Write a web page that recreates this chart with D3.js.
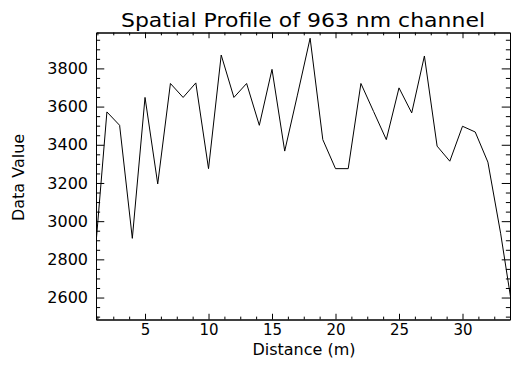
<!DOCTYPE html>
<html>
<head>
<meta charset="utf-8">
<script src="https://cdn.jsdelivr.net/npm/d3@7"></script>
<style>
  body { margin: 0; background: #fff; }
  text { font-family: "DejaVu Sans", sans-serif; fill: #000; }
</style>
</head>
<body>
<div id="chart"></div>
<script>
// Values (one sample per metre)
const distance = [1, 2, 3, 4, 5, 6, 7, 8, 9, 10, 11, 12, 13, 14, 15, 16, 17,
    18, 19, 20, 21, 22, 23, 24, 25, 26, 27, 28, 29, 30, 31, 32, 33, 34];
const dataValue = [2770, 3572, 3502, 2910, 3648, 3195, 3721, 3648, 3724, 3275,
    3870, 3648, 3721, 3502, 3795, 3367, 3660, 3958, 3427, 3275, 3275, 3721,
    3574, 3427, 3698, 3567, 3865, 3393, 3314, 3497, 3467, 3309, 2937, 2510];
const xMajorTicks = [5, 10, 15, 20, 25, 30];
const yMajorTicks = [2600, 2800, 3000, 3200, 3400, 3600, 3800];

const W = 511, H = 365;
const margin = {top: 32.5, right: 1, bottom: 45.5, left: 96},
    width = W - margin.left - margin.right,
    height = H - margin.top - margin.bottom;

const svg = d3.select("#chart")
    .append("svg")
        .attr("width", W)
        .attr("height", H);

const g = svg.append("g")
    .attr("transform", `translate(${margin.left}, ${margin.top})`);

const x = d3.scaleLinear().domain([1.14, 33.74]).range([0, width]);
const y = d3.scaleLinear().domain([2485, 3988]).range([height, 0]);

// minor ticks: 4 subdivisions between majors
const xMinor = d3.range(1.25, 33.75, 1.25).filter(v => v % 5 !== 0);
const yMinor = d3.range(2500, 3988, 50).filter(v => v % 200 !== 0);

const xLen = 0.02 * height, yLen = 0.02 * width;

function style(sel) {
    sel.select(".domain").attr("stroke", "#000").attr("stroke-width", 1);
    sel.selectAll(".tick line").attr("stroke", "#000").attr("stroke-width", 1);
}

// bottom axis with labels
g.append("g")
    .attr("transform", `translate(0, ${height})`)
    .call(d3.axisBottom(x).tickValues(xMajorTicks).tickSize(-xLen).tickSizeOuter(0).tickPadding(5))
    .call(style)
    .call(s => s.selectAll("text").style("font-size", "15px"));
g.append("g")
    .attr("transform", `translate(0, ${height})`)
    .call(d3.axisBottom(x).tickValues(xMinor).tickSize(-xLen / 2).tickSizeOuter(0).tickFormat(""))
    .call(style);

// top axis, ticks only
g.append("g")
    .call(d3.axisTop(x).tickValues(xMajorTicks).tickSize(-xLen).tickSizeOuter(0).tickFormat(""))
    .call(style);
g.append("g")
    .call(d3.axisTop(x).tickValues(xMinor).tickSize(-xLen / 2).tickSizeOuter(0).tickFormat(""))
    .call(style);

// left axis with labels
g.append("g")
    .call(d3.axisLeft(y).tickValues(yMajorTicks).tickFormat(d3.format("d"))
        .tickSize(-yLen).tickSizeOuter(0).tickPadding(8))
    .call(style)
    .call(s => s.selectAll("text").style("font-size", "16px"));
g.append("g")
    .call(d3.axisLeft(y).tickValues(yMinor).tickSize(-yLen / 2).tickSizeOuter(0).tickFormat(""))
    .call(style);

// right axis, ticks only
g.append("g")
    .attr("transform", `translate(${width}, 0)`)
    .call(d3.axisRight(y).tickValues(yMajorTicks).tickSize(-yLen).tickSizeOuter(0).tickFormat(""))
    .call(style);
g.append("g")
    .attr("transform", `translate(${width}, 0)`)
    .call(d3.axisRight(y).tickValues(yMinor).tickSize(-yLen / 2).tickSizeOuter(0).tickFormat(""))
    .call(style);

// clip the profile to the plot window
g.append("clipPath")
    .attr("id", "clip")
    .append("rect")
        .attr("width", width)
        .attr("height", height);

const line = d3.line()
    .x((d, i) => x(distance[i]))
    .y(d => y(d));

g.append("path")
    .datum(dataValue)
    .attr("clip-path", "url(#clip)")
    .attr("fill", "none")
    .attr("stroke", "#000")
    .attr("stroke-width", 1)
    .attr("d", line);

// title
svg.append("text")
    .attr("x", margin.left + width / 2)
    .attr("y", 26.5)
    .attr("text-anchor", "middle")
    .attr("textLength", 364)
    .attr("lengthAdjust", "spacingAndGlyphs")
    .style("font-size", "19px")
    .text("Spatial Profile of 963 nm channel");

// x axis label
svg.append("text")
    .attr("x", 304)
    .attr("y", 355)
    .attr("text-anchor", "middle")
    .style("font-size", "16px")
    .text("Distance (m)");

// y axis label
svg.append("text")
    .attr("transform", "rotate(-90)")
    .attr("x", -177.5)
    .attr("y", 24)
    .attr("text-anchor", "middle")
    .style("font-size", "16px")
    .text("Data Value");
</script>
</body>
</html>
